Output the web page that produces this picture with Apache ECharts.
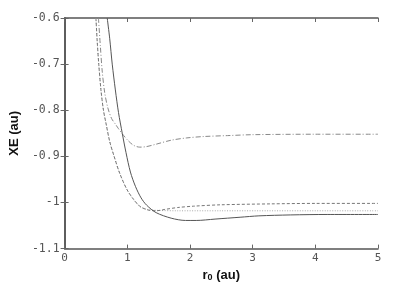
<!DOCTYPE html>
<html>
<head>
<meta charset="utf-8">
<script src="https://cdn.jsdelivr.net/npm/echarts@6/dist/echarts.min.js"></script>
<style>html,body{margin:0;padding:0;background:#fff}#c{width:394px;height:287px}</style>
</head>
<body>
<div id="c"></div>
<script>
const xTicks = [0, 1, 2, 3, 4, 5];
const yTicks = [-1.1, -1.0, -0.9, -0.8, -0.7, -0.6];
const solidCurve = [[0.68,-0.6],[0.72,-0.645],[0.76,-0.7],[0.81,-0.756],[0.86,-0.805],[0.92,-0.85],[0.98,-0.892],[1.05,-0.934],[1.13,-0.965],[1.22,-0.99],[1.31,-1.006],[1.46,-1.022],[1.7,-1.034],[1.93,-1.039],[2.1,-1.039],[2.4,-1.036],[2.8,-1.032],[3.1,-1.029],[3.6,-1.027],[4.2,-1.026],[5,-1.026]];
const dashDotCurve = [[0.54,-0.6],[0.57,-0.66],[0.6,-0.715],[0.64,-0.762],[0.69,-0.795],[0.75,-0.818],[0.81,-0.83],[0.86,-0.84],[0.92,-0.851],[1.0,-0.864],[1.1,-0.876],[1.2,-0.88],[1.3,-0.879],[1.45,-0.874],[1.7,-0.865],[1.95,-0.86],[2.22,-0.857],[2.6,-0.855],[3,-0.853],[4,-0.852],[5,-0.852]];
const dashedCurve = [[0.5,-0.6],[0.52,-0.65],[0.545,-0.7],[0.58,-0.756],[0.62,-0.8],[0.66,-0.828],[0.72,-0.868],[0.79,-0.9],[0.88,-0.937],[0.995,-0.972],[1.1,-0.993],[1.2,-1.008],[1.32,-1.016],[1.46,-1.018],[1.6,-1.015],[1.8,-1.011],[2.06,-1.008],[2.5,-1.005],[3.3,-1.003],[4,-1.002],[5,-1.002]];
const dottedCurve = [[0.5,-0.6],[0.52,-0.65],[0.545,-0.7],[0.58,-0.756],[0.62,-0.8],[0.66,-0.828],[0.72,-0.868],[0.79,-0.9],[0.88,-0.937],[0.995,-0.972],[1.1,-0.994],[1.2,-1.009],[1.32,-1.015],[1.46,-1.017],[1.8,-1.018],[2.5,-1.018],[5,-1.018]];

const chart = echarts.init(document.getElementById('c'));
const mono = 'DejaVu Sans Mono';
const axisLine = {show:true, lineStyle:{color:'#555', width:1.5}};
const tick = {show:true, inside:true, length:4, lineStyle:{color:'#666'}};
function mkLine(data, color, type, width){
  return {type:'line', data:data, showSymbol:false, smooth:0.3, clip:true,
    lineStyle:{color:color, type:type, width:width}, xAxisIndex:0, yAxisIndex:0};
}
chart.setOption({
  animation:false,
  grid:{left:58, right:16, top:18, bottom:38},
  xAxis:[
    {type:'value', min:xTicks[0], max:xTicks[xTicks.length-1], interval:1, position:'bottom',
     axisLine:axisLine, axisTick:tick, splitLine:{show:false},
     axisLabel:{fontFamily:mono, fontSize:11, color:'#555', margin:4},
     name:'{a|r}{b|0}{a| (au)}', nameLocation:'middle', nameGap:19,
     nameTextStyle:{rich:{a:{fontFamily:'Liberation Sans', fontWeight:'bold', fontSize:13, color:'#111'},
                          b:{fontFamily:'Liberation Sans', fontWeight:'bold', fontSize:9, color:'#111', padding:[5,0,0,0]}}}},
    {type:'value', min:xTicks[0], max:xTicks[xTicks.length-1], interval:1, position:'top',
     axisLine:axisLine, axisTick:tick, axisLabel:{show:false}, splitLine:{show:false}}
  ],
  yAxis:[
    {type:'value', min:yTicks[0], max:yTicks[yTicks.length-1], interval:0.1, position:'left',
     axisLine:axisLine, axisTick:tick, splitLine:{show:false},
     axisLabel:{fontFamily:mono, fontSize:11.5, color:'#555', margin:5,
       formatter:v=>{const r=Math.round(v*10)/10; return r===-1?'-1':r.toFixed(1);}},
     name:'XE (au)', nameLocation:'middle', nameGap:33,
     nameTextStyle:{fontFamily:'Liberation Sans', fontWeight:'bold', fontSize:13, color:'#111'}},
    {type:'value', min:yTicks[0], max:yTicks[yTicks.length-1], interval:0.1, position:'right',
     axisLine:axisLine, axisTick:tick, axisLabel:{show:false}, splitLine:{show:false}}
  ],
  series:[
    mkLine(dottedCurve, '#aaa', [1,1.5], 1),
    mkLine(dashedCurve, '#777', [3,2], 1),
    mkLine(dashDotCurve, '#888', [5,2,1,2], 1),
    mkLine(solidCurve, '#555', 'solid', 1)
  ]
});
</script>
</body>
</html>
